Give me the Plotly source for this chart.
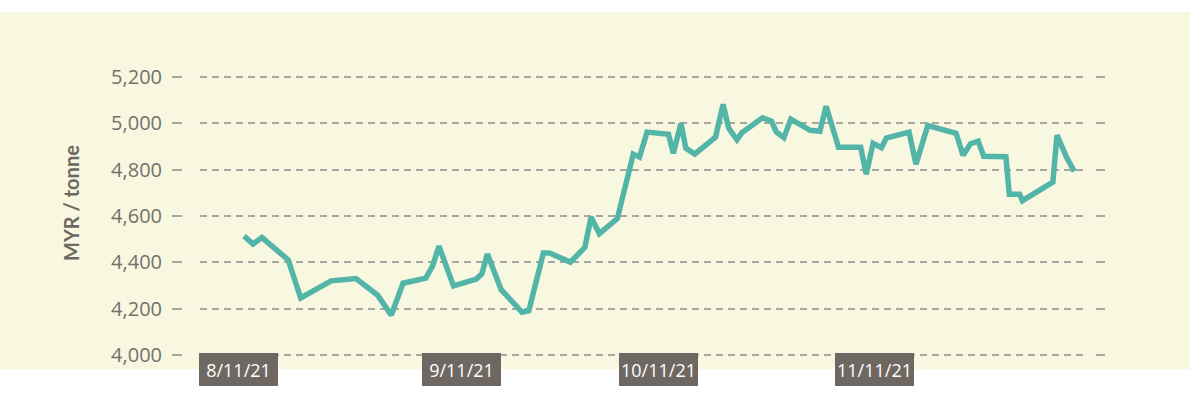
import plotly.graph_objects as go

# ---- data ----
day = [0.8, 2.1, 3.4, 7.2, 9.0, 13.4, 17.0, 20.1, 22.1, 23.8,
       27.1, 28.1, 29.0, 31.1, 34.4, 35.2, 36.0, 38.0, 41.0, 42.0,
       44.1, 45.0, 48.0, 50.1, 51.0, 52.2, 54.8, 57.1, 58.0, 59.1,
       62.2, 62.9, 64.0, 64.7, 66.0, 69.0, 70.1, 70.9, 72.1, 72.8,
       75.8, 77.1, 77.8, 78.9, 79.9, 82.7, 84.1, 85.0, 86.8, 90.0,
       90.8, 91.8, 93.0, 93.7, 97.0, 98.0, 99.7, 103.8, 104.8, 105.9,
       107.0, 107.8, 111.0, 111.5, 113.0, 113.4, 117.8, 118.4, 119.8, 120.9]
price = [4513, 4479, 4507, 4410, 4246, 4320, 4330, 4259, 4172, 4310,
         4332, 4386, 4470, 4298, 4328, 4351, 4436, 4282, 4185, 4191,
         4440, 4440, 4401, 4464, 4595, 4524, 4589, 4867, 4854, 4962,
         4953, 4871, 5000, 4893, 4867, 4940, 5082, 4979, 4929, 4959,
         5024, 5009, 4963, 4938, 5018, 4970, 4966, 5074, 4897, 4897,
         4780, 4914, 4895, 4936, 4962, 4824, 4990, 4957, 4862, 4912,
         4923, 4858, 4856, 4694, 4694, 4666, 4746, 4949, 4852, 4793]
label_day = [0, 32.3, 60.8, 92]
label_text = ["8/11/21", "9/11/21", "10/11/21", "11/11/21"]
y_ticks = [4000, 4200, 4400, 4600, 4800, 5000, 5200]

# ---- styling ----
W, H = 1190, 404
ML, MR, MT, MB = 182, 95, 60, 24
PW = W - ML - MR
PH = H - MT - MB
LINE = "#52B5A8"
GRID = "#A9A7A4"
TXT = "#6E6762"
TICKTXT = "#75706B"
PANEL = "#F8F8E0"
FONT = "Open Sans"
YR = [3892.2, 5273.3]

def px_x(p):
    return (p - ML) / PW

def px_y(p):
    return (H - MB - p) / PH

fig = go.Figure()
fig.add_trace(go.Scatter(x=day, y=price, mode="lines",
                         line=dict(color=LINE, width=5.5),
                         hoverinfo="skip", showlegend=False))
# invisible companions so the tick-only axes are drawn
for ax in ("y2", "y3"):
    fig.add_trace(go.Scatter(x=day, y=price, yaxis=ax, mode="lines",
                             line=dict(width=0), opacity=0,
                             hoverinfo="skip", showlegend=False))

fig.update_layout(
    width=W, height=H,
    margin=dict(l=ML, r=MR, t=MT, b=MB),
    paper_bgcolor="white",
    plot_bgcolor="rgba(0,0,0,0)",
    showlegend=False,
    xaxis=dict(domain=[px_x(200), px_x(1085)], range=[-5.57, 122.45],
               visible=False, fixedrange=True),
    yaxis=dict(range=YR, tickvals=y_ticks, showticklabels=False, ticks="",
               showgrid=True, gridcolor=GRID, gridwidth=2, griddash="7px,5px",
               zeroline=False, showline=False),
    yaxis2=dict(overlaying="y", anchor="free", position=0, side="left",
                range=YR, tickvals=y_ticks, tickformat=",",
                ticks="outside", ticklen=10, tickwidth=2, tickcolor=GRID,
                ticklabelstandoff=6,
                tickfont=dict(family=FONT, size=20, color=TICKTXT),
                showgrid=False, zeroline=False, showline=False),
    yaxis3=dict(overlaying="y", anchor="free", position=1, side="right",
                range=YR, tickvals=y_ticks, showticklabels=False,
                ticks="outside", ticklen=9, tickwidth=2, tickcolor=GRID,
                showgrid=False, zeroline=False, showline=False),
)

# background panel
fig.add_shape(type="rect", xref="paper", yref="paper",
              x0=px_x(0), x1=px_x(W), y0=px_y(369), y1=px_y(12),
              fillcolor=PANEL, line=dict(width=0), layer="below")

# axis title
fig.add_annotation(xref="paper", yref="paper", x=px_x(71), y=px_y(203),
                   xanchor="center", yanchor="middle",
                   text="<b>MYR / tonne</b>", textangle=-90, showarrow=False,
                   font=dict(family="Lato", size=20, color=TXT))

# date labels in boxes
for d, t in zip(label_day, label_text):
    fig.add_annotation(xref="x", yref="paper", x=d, y=px_y(369.5),
                       text=t, showarrow=False, xanchor="center", yanchor="middle",
                       bgcolor=TXT, bordercolor=TXT, borderwidth=0, borderpad=2,
                       width=75, height=29,
                       font=dict(family=FONT, size=18, color="white"))

fig.write_html("out.html", config={"displayModeBar": False},
               post_script="document.body.style.margin='0px';")
